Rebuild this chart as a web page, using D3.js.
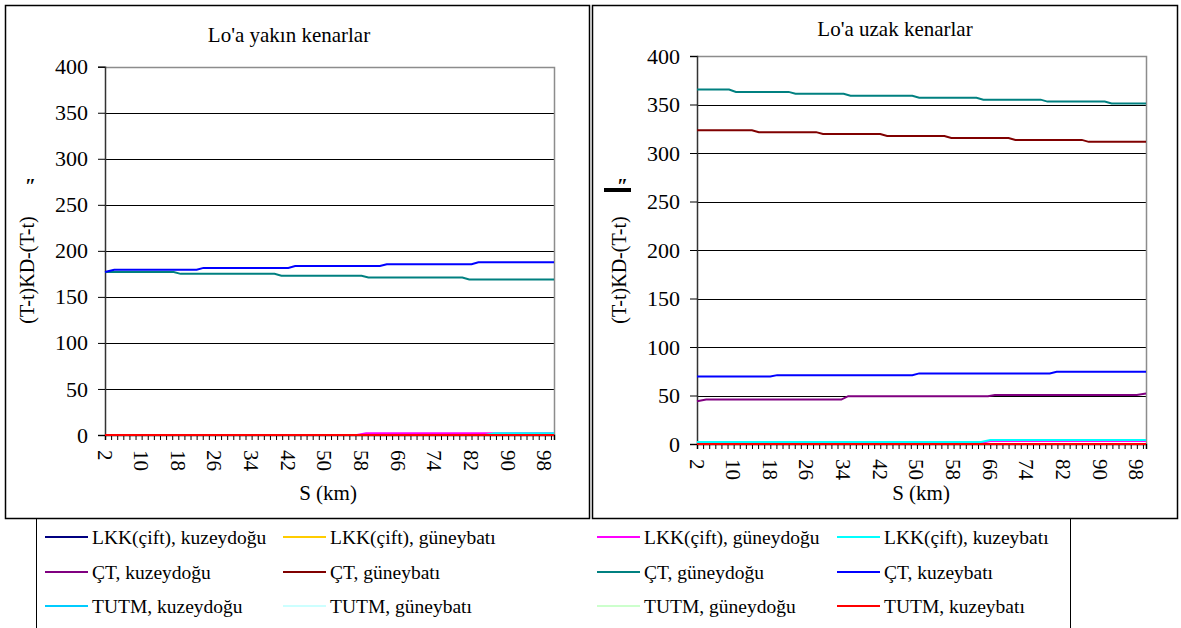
<!DOCTYPE html>
<html>
<head>
<meta charset="utf-8">
<script src="https://cdnjs.cloudflare.com/ajax/libs/d3/7.8.5/d3.min.js"></script>
<style>
  body { margin: 0; background: #fff; }
  svg text { font-family: "Liberation Serif", "Times New Roman", serif; fill: #000; }
</style>
</head>
<body>
<div id="chart"></div>
<script>
// tick labels
var sLabels = [2, 10, 18, 26, 34, 42, 50, 58, 66, 74, 82, 90, 98];
var yTicks = [0, 50, 100, 150, 200, 250, 300, 350, 400];

// series names + colours (legend order)
var seriesNames = [
  "LKK(çift), kuzeydoğu", "LKK(çift), güneybatı", "LKK(çift), güneydoğu", "LKK(çift), kuzeybatı",
  "ÇT, kuzeydoğu", "ÇT, güneybatı", "ÇT, güneydoğu", "ÇT, kuzeybatı",
  "TUTM, kuzeydoğu", "TUTM, güneybatı", "TUTM, güneydoğu", "TUTM, kuzeybatı"
];
var seriesColors = [
  "#000080", "#ffcc00", "#ff00ff", "#00ffff",
  "#800080", "#800000", "#008080", "#0000ff",
  "#00ccff", "#ccffff", "#ccffcc", "#ff0000"
];

// Lo'a yakın kenarlar : [S, value] points
var nearLKK_NE = [[2, 0], [100, 0]];
var nearLKK_SW = [[2, 0], [100, 0]];
var nearLKK_SE = [[2, 0], [57, 0], [59, 2], [100, 2]];
var nearLKK_NW = [[2, 0], [85, 0], [87, 2], [100, 2]];
var nearCT_NE = [[2, 0], [100, 0]];
var nearCT_SW = [[2, 0], [100, 0]];
var nearCT_SE = [[2, 177], [17, 177], [18.5, 175], [39, 175], [40.5, 173], [58, 173], [59.5, 171], [80, 171], [81.5, 169], [100, 169]];
var nearCT_NW = [[2, 177], [4, 179.5], [22, 179.5], [23.5, 181.5], [42, 181.5], [43.5, 183.5], [62, 183.5], [63.5, 185.5], [82, 185.5], [83.5, 187.5], [100, 187.5]];
var nearTU_NE = [[2, 0], [100, 0]];
var nearTU_SW = [[2, 0], [100, 0]];
var nearTU_SE = [[2, 0], [100, 0]];
var nearTU_NW = [[2, 0], [100, 0]];

// Lo'a uzak kenarlar
var farLKK_NE = [[2, 0], [100, 0]];
var farLKK_SW = [[2, 0], [100, 0]];
var farLKK_SE = [[2, 1], [64, 1], [66, 3], [100, 3]];
var farLKK_NW = [[2, 2], [64, 2], [66, 4], [100, 4]];
var farCT_NE = [[2, 44], [4, 45.8], [33.5, 45.8], [35, 49.3], [65.5, 49.3], [67, 50.5], [98, 50.5], [100, 52]];
var farCT_SW = [[2, 323.5], [14, 323.5], [15.5, 321.5], [28, 321.5], [29.5, 319.5], [42, 319.5], [43.5, 317.5], [56, 317.5], [57.5, 315.5], [70, 315.5], [71.5, 313.5], [86, 313.5], [87.5, 311.5], [100, 311.5]];
var farCT_SE = [[2, 365.5], [9, 365.5], [10.5, 363], [22, 363], [23.5, 361], [34, 361], [35.5, 359], [49, 359], [50.5, 357], [63, 357], [64.5, 355], [77, 355], [78.5, 353], [91, 353], [92.5, 351], [100, 351]];
var farCT_NW = [[2, 69.5], [18, 69.5], [19.5, 71], [49, 71], [50.5, 72.8], [79, 72.8], [80.5, 74.5], [100, 74.5]];
var farTU_NE = [[2, 0], [100, 0]];
var farTU_SW = [[2, 0], [100, 0]];
var farTU_SE = [[2, 0], [100, 0]];
var farTU_NW = [[2, 0], [100, 0]];

var nearSeries = [nearLKK_NE, nearLKK_SW, nearLKK_SE, nearLKK_NW, nearCT_NE, nearCT_SW, nearCT_SE, nearCT_NW, nearTU_NE, nearTU_SW, nearTU_SE, nearTU_NW];
var farSeries = [farLKK_NE, farLKK_SW, farLKK_SE, farLKK_NW, farCT_NE, farCT_SW, farCT_SE, farCT_NW, farTU_NE, farTU_SW, farTU_SE, farTU_NW];

var svg = d3.select("#chart").append("svg")
  .attr("width", 1181).attr("height", 628);

// outer frames
svg.append("rect").attr("x", 5.5).attr("y", 5.5).attr("width", 584).attr("height", 513)
  .style("fill", "none").style("stroke", "#000").style("stroke-width", 1.5);
svg.append("rect").attr("x", 592.5).attr("y", 5.5).attr("width", 585).attr("height", 513)
  .style("fill", "none").style("stroke", "#000").style("stroke-width", 1.5);
// legend frame (open at bottom)
svg.append("path").attr("d", "M36.5,519 V628 M1070.5,519 V628")
  .style("stroke", "#000").style("stroke-width", 1);

function drawPanel(opt) {
  var x = d3.scaleLinear().domain([2, 100]).range([opt.left, opt.right]);
  var y = d3.scaleLinear().domain([0, 400]).range([opt.bottom, opt.top]);
  var g = svg.append("g");

  g.append("text").text(opt.title)
    .attr("x", opt.titleX).attr("y", opt.titleY)
    .attr("text-anchor", "middle").style("font-size", "21px");

  // gridlines
  g.selectAll(".grid").data(yTicks.slice(1, -1)).enter().append("line")
    .attr("x1", opt.left).attr("x2", opt.right)
    .attr("y1", function(d) { return Math.round(y(d)) + 0.5; })
    .attr("y2", function(d) { return Math.round(y(d)) + 0.5; })
    .style("stroke", "#000").style("stroke-width", 1);
  // top and right border grey
  g.append("path")
    .attr("d", "M" + opt.left + "," + (Math.round(y(400)) + 0.5) + " H" + (opt.right + 0.5) + " V" + opt.bottom)
    .style("fill", "none").style("stroke", "#8c8c8c").style("stroke-width", 1.5);

  // y axis
  var yAxis = d3.axisLeft(y).tickValues(yTicks).tickSize(7).tickPadding(10);
  var ya = g.append("g").attr("transform", "translate(" + opt.left + ",0)").call(yAxis);
  ya.attr("font-family", null).attr("font-size", null);
  ya.select(".domain").style("stroke", "#333").style("stroke-width", 1.5);
  ya.selectAll(".tick line").style("stroke", "#000");
  ya.selectAll("text").style("font-size", "22px");

  // x axis, minor ticks 6 per label step
  var minor = d3.range(0, 74).map(function(i) { return 2 + i * 8 / 6; }).filter(function(v) { return v <= 100; });
  var xAxis = d3.axisBottom(x).tickValues(minor).tickSize(5).tickFormat("");
  var xa = g.append("g").attr("transform", "translate(0," + opt.bottom + ")").call(xAxis);
  xa.select(".domain").style("stroke", "#000").style("stroke-width", 1.5);
  xa.selectAll(".tick line").style("stroke", "#000");

  g.selectAll(".xl").data(sLabels).enter().append("text")
    .text(function(d) { return d; })
    .attr("transform", function(d) { return "translate(" + (x(d) - 7.5) + "," + (opt.bottom + 15) + ") rotate(90)"; })
    .style("font-size", "21px");

  g.append("text").text("S (km)")
    .attr("x", opt.xTitleX).attr("y", 500)
    .attr("text-anchor", "middle").style("font-size", "21px");

  g.append("text").text("(T-t)KD-(T-t)")
    .attr("transform", "translate(" + opt.yTitleX + ",270) rotate(-90)")
    .attr("text-anchor", "middle").style("font-size", "20px");
  g.append("text").text("″")
    .attr("x", opt.yTitleX - 9).attr("y", 193)
    .style("font-size", "20px").style("font-weight", "bold");

  var line = d3.line().x(function(d) { return x(d[0]); }).y(function(d) { return y(d[1]); });
  g.selectAll(".series").data(opt.series).enter().append("path")
    .attr("d", line)
    .style("fill", "none")
    .style("stroke", function(d, i) { return seriesColors[i]; })
    .style("stroke-width", 2);
  return g;
}

drawPanel({ left: 105, right: 554, top: 66.7, bottom: 435, title: "Lo'a yakın kenarlar",
  titleX: 289, titleY: 42, xTitleX: 328, yTitleX: 34, series: nearSeries });
var right = drawPanel({ left: 697, right: 1146, top: 56, bottom: 444, title: "Lo'a uzak kenarlar",
  titleX: 895, titleY: 36, xTitleX: 921, yTitleX: 626, series: farSeries });
// small black bar beside the right axis title
right.append("rect").attr("x", 604).attr("y", 188).attr("width", 27).attr("height", 4).style("fill", "#000");

// legend
var colX = [45, 283, 597, 837];
var rowY = [537, 572, 606];
var leg = svg.append("g").selectAll("g").data(seriesNames).enter().append("g")
  .attr("transform", function(d, i) { return "translate(" + colX[i % 4] + "," + rowY[Math.floor(i / 4)] + ")"; });
leg.append("line").attr("x1", 0).attr("x2", 43).attr("y1", 0).attr("y2", 0)
  .style("stroke", function(d, i) { return seriesColors[i]; }).style("stroke-width", 2);
leg.append("text").text(function(d) { return d; })
  .attr("x", 47).attr("y", 6.5).style("font-size", "19.5px");
</script>
</body>
</html>
